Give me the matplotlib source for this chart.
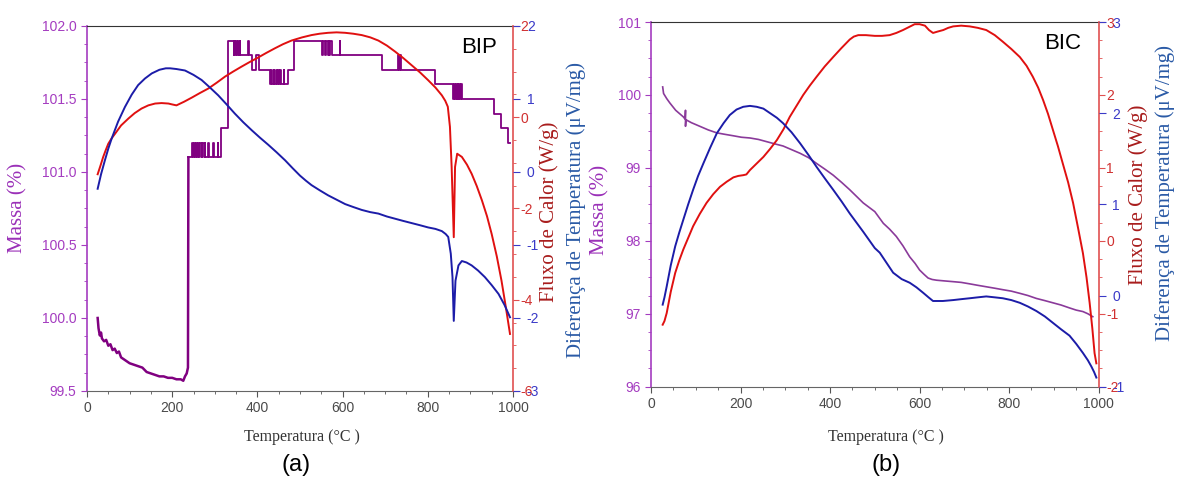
import matplotlib
matplotlib.use('Agg')
import matplotlib.pyplot as plt
from matplotlib.ticker import AutoMinorLocator, MultipleLocator, FormatStrFormatter

plt.rcParams['font.family'] = ['Liberation Sans', 'DejaVu Sans']
plt.rcParams['axes.unicode_minus'] = False

# ---------------- (a) BIP ----------------
bip_mass_T = [25, 27, 30, 33, 35, 40, 45, 50, 55, 60, 65, 70, 75, 80, 90, 100, 110, 120, 130, 140, 150,
              160, 170, 180, 190, 200, 210, 220, 226, 230, 234, 237, 238]
bip_mass = [100.00, 99.93, 99.88, 99.90, 99.86, 99.84, 99.85, 99.81, 99.82, 99.78, 99.79, 99.76, 99.77,
            99.73, 99.71, 99.69, 99.68, 99.67, 99.66, 99.63, 99.62, 99.61, 99.60, 99.60, 99.59, 99.59,
            99.58, 99.58, 99.57, 99.60, 99.62, 99.66, 101.10]

# stepped part of the mass curve (drawn as steps-post)
bip_step_T = [238, 246, 249, 251, 254, 256, 259, 261, 264, 266, 269, 271, 274, 276, 278, 285, 286, 296,
              297, 307, 308, 314, 332, 344, 346, 348, 350, 352, 354, 356, 358, 360, 378, 380, 388, 396,
              404, 430, 433, 435, 438, 440, 443, 445, 448, 450, 453, 455, 462, 463, 473, 485, 551, 553,
              558, 560, 565, 567, 569, 571, 574, 593, 595, 693, 731, 733, 735, 737, 739, 817, 860, 862,
              864, 866, 868, 870, 872, 874, 876, 878, 880, 956, 973, 989, 993]
bip_step_M = [101.1, 101.2, 101.1, 101.2, 101.1, 101.2, 101.1, 101.2, 101.1, 101.2, 101.1, 101.2, 101.1,
              101.2, 101.1, 101.2, 101.1, 101.2, 101.1, 101.2, 101.1, 101.3, 101.9, 101.8, 101.9, 101.8,
              101.9, 101.8, 101.9, 101.8, 101.9, 101.8, 101.9, 101.8, 101.7, 101.8, 101.7, 101.6, 101.7,
              101.6, 101.7, 101.6, 101.7, 101.6, 101.7, 101.6, 101.7, 101.6, 101.7, 101.6, 101.7, 101.9,
              101.8, 101.9, 101.8, 101.9, 101.8, 101.9, 101.8, 101.9, 101.8, 101.9, 101.8, 101.7, 101.8,
              101.7, 101.8, 101.7, 101.7, 101.6, 101.5, 101.6, 101.5, 101.6, 101.5, 101.6, 101.5, 101.6,
              101.5, 101.6, 101.5, 101.4, 101.3, 101.2, 101.2]

bip_heat_T = [25, 32, 38, 44, 50, 58, 66, 80, 97, 112, 128, 144, 160, 175, 191, 200, 210, 228, 246, 265,
              285, 305, 324, 343, 363, 382, 402, 421, 441, 460, 480, 505, 527, 546, 566, 586, 606, 625,
              645, 665, 684, 704, 723, 742, 762, 782, 801, 818, 833, 841, 847, 852, 856, 861, 864, 869,
              880, 892, 903, 915, 927, 939, 950, 962, 973, 983, 993]
bip_heat = [-1.25, -1.05, -0.87, -0.72, -0.58, -0.46, -0.36, -0.18, -0.03, 0.09, 0.19, 0.26, 0.30, 0.31,
            0.30, 0.28, 0.26, 0.34, 0.43, 0.53, 0.63, 0.76, 0.89, 1.00, 1.11, 1.21, 1.31, 1.41, 1.51,
            1.60, 1.68, 1.75, 1.80, 1.83, 1.85, 1.86, 1.85, 1.83, 1.80, 1.75, 1.68, 1.57, 1.44, 1.30,
            1.14, 0.98, 0.81, 0.65, 0.48, 0.36, 0.23, -0.21, -1.09, -2.63, -1.09, -0.80, -0.87, -1.04,
            -1.24, -1.51, -1.82, -2.17, -2.56, -3.05, -3.58, -4.15, -4.75]

bip_dta_T = [25, 33, 42, 50, 58, 73, 89, 105, 120, 136, 152, 170, 185, 195, 210, 230, 250, 269, 288,
             308, 327, 347, 367, 387, 406, 426, 445, 465, 483, 500, 514, 527, 546, 566, 586, 606, 625,
             645, 665, 684, 704, 723, 742, 762, 782, 801, 818, 833, 842, 848, 854, 858, 861, 865, 872,
             880, 891, 903, 918, 934, 950, 966, 980, 993]
bip_dta = [-0.23, -0.03, 0.16, 0.32, 0.46, 0.69, 0.89, 1.06, 1.19, 1.28, 1.35, 1.40, 1.42, 1.42, 1.41,
           1.39, 1.33, 1.26, 1.16, 1.05, 0.93, 0.80, 0.68, 0.57, 0.47, 0.37, 0.27, 0.16, 0.05, -0.05,
           -0.12, -0.18, -0.25, -0.32, -0.38, -0.44, -0.48, -0.52, -0.55, -0.57, -0.61, -0.64, -0.67,
           -0.70, -0.73, -0.76, -0.78, -0.81, -0.85, -0.89, -1.12, -1.44, -2.04, -1.49, -1.28, -1.22,
           -1.24, -1.28, -1.35, -1.44, -1.55, -1.67, -1.82, -1.99]

# ---------------- (b) BIC ----------------
bic_mass_T = [26, 28, 35, 42, 55, 72, 76, 77, 77, 78, 90, 109, 128, 147, 165, 184, 202, 221, 240, 258,
              276, 295, 314, 333, 352, 370, 389, 407, 426, 444, 459, 474, 487, 500, 519, 533, 548, 563,
              578, 590, 600, 610, 619, 628, 638, 656, 675, 693, 712, 730, 749, 768, 786, 805, 824, 842,
              861, 880, 898, 916, 935, 950, 965, 976, 987]
bic_mass = [100.11, 100.02, 99.95, 99.89, 99.79, 99.70, 99.67, 99.79, 99.57, 99.66, 99.62, 99.57, 99.52,
            99.48, 99.46, 99.44, 99.42, 99.41, 99.39, 99.36, 99.33, 99.30, 99.25, 99.20, 99.14, 99.06,
            98.98, 98.90, 98.80, 98.70, 98.61, 98.52, 98.46, 98.40, 98.24, 98.16, 98.06, 97.93, 97.78,
            97.69, 97.60, 97.54, 97.49, 97.47, 97.46, 97.45, 97.44, 97.43, 97.41, 97.39, 97.37, 97.35,
            97.33, 97.31, 97.28, 97.25, 97.21, 97.18, 97.15, 97.12, 97.08, 97.05, 97.03, 97.00, 96.96]

bic_heat_T = [26, 30, 35, 44, 54, 63, 72, 83, 94, 109, 124, 139, 154, 169, 184, 195, 206, 213, 221, 236,
              251, 266, 281, 296, 310, 325, 340, 355, 370, 388, 407, 425, 444, 453, 463, 480, 500, 516,
              533, 548, 563, 576, 589, 600, 612, 621, 630, 641, 653, 664, 675, 693, 712, 730, 749, 768,
              786, 805, 824, 839, 853, 865, 876, 887, 898, 909, 920, 932, 943, 954, 965, 973, 980, 986,
              991, 995]
bic_heat = [-1.15, -1.10, -0.99, -0.70, -0.44, -0.27, -0.12, 0.04, 0.20, 0.37, 0.52, 0.64, 0.74, 0.81,
            0.87, 0.89, 0.90, 0.91, 0.97, 1.06, 1.15, 1.26, 1.38, 1.53, 1.70, 1.85, 2.00, 2.13, 2.25,
            2.39, 2.52, 2.64, 2.76, 2.80, 2.82, 2.82, 2.81, 2.81, 2.82, 2.85, 2.89, 2.93, 2.97, 2.97,
            2.95, 2.89, 2.85, 2.87, 2.89, 2.92, 2.94, 2.95, 2.94, 2.92, 2.89, 2.82, 2.73, 2.63, 2.52,
            2.40, 2.25, 2.10, 1.93, 1.74, 1.52, 1.30, 1.06, 0.80, 0.52, 0.18, -0.17, -0.50, -0.85,
            -1.20, -1.54, -1.68]

bic_dta_T = [26, 30, 35, 44, 54, 63, 72, 83, 94, 105, 117, 132, 147, 162, 176, 191, 206, 221, 236, 251,
             266, 281, 295, 314, 333, 352, 370, 389, 407, 426, 444, 459, 474, 487, 500, 511, 526, 541,
             560, 578, 593, 608, 620, 630, 652, 675, 693, 712, 730, 749, 768, 786, 805, 824, 842, 861,
             880, 898, 916, 935, 950, 965, 976, 984, 990, 995]
bic_dta = [-0.10, -0.02, 0.10, 0.33, 0.54, 0.69, 0.83, 1.00, 1.16, 1.31, 1.45, 1.62, 1.78, 1.89, 1.98,
           2.04, 2.07, 2.08, 2.07, 2.05, 2.00, 1.95, 1.89, 1.79, 1.67, 1.54, 1.41, 1.28, 1.16, 1.03,
           0.90, 0.80, 0.70, 0.61, 0.52, 0.47, 0.36, 0.25, 0.18, 0.14, 0.09, 0.03, -0.02, -0.06, -0.06,
           -0.05, -0.04, -0.03, -0.02, -0.01, -0.02, -0.03, -0.05, -0.08, -0.12, -0.17, -0.23, -0.30,
           -0.37, -0.44, -0.53, -0.63, -0.71, -0.78, -0.84, -0.90]

temp_ticks = [0, 200, 400, 600, 800, 1000]

PURPLE = '#800080'
PURPLE_AX = '#a43cc0'
RED = '#e01010'
RED_AX = '#e05050'
RED_LBL = '#a81c1c'
BLUE = '#1c1ca8'
BLUE_AX = '#3a3ac8'
BLUE_LBL = '#2a5aa6'
SERIF = 'Liberation Serif'


def make_panel(rect, mlim, mstep, mfmt, rlim, rstep, blim, tag):
    ax = fig.add_axes(rect)
    ax.set_xlim(0, 1000)
    ax.set_xticks(temp_ticks)
    ax.xaxis.set_minor_locator(MultipleLocator(50))
    ax.set_ylim(*mlim)
    ax.yaxis.set_major_locator(MultipleLocator(mstep))
    ax.yaxis.set_minor_locator(AutoMinorLocator(4))
    ax.yaxis.set_major_formatter(FormatStrFormatter(mfmt))
    ax.tick_params(axis='x', colors='#555555', labelsize=10, length=4, labelcolor='#4a4a4a')
    ax.tick_params(axis='x', which='minor', colors='#555555', length=2.5)
    ax.tick_params(axis='y', colors=PURPLE_AX, labelsize=10, length=4)
    ax.tick_params(axis='y', which='minor', colors=PURPLE_AX, length=2.5)
    ax.spines['left'].set_color(PURPLE_AX)
    ax.spines['left'].set_linewidth(1.2)
    ax.spines['bottom'].set_color('#666666')
    ax.spines['top'].set_color('#333333')
    ax.spines['right'].set_visible(False)

    axr = ax.twinx()
    axr.set_ylim(*rlim)
    axr.yaxis.set_major_locator(MultipleLocator(rstep))
    axr.yaxis.set_minor_locator(AutoMinorLocator(4))
    axr.spines['right'].set_color(RED_AX)
    axr.spines['right'].set_linewidth(1.2)
    for s in ['left', 'top', 'bottom']:
        axr.spines[s].set_visible(False)
    axr.tick_params(axis='y', colors=RED_AX, labelcolor='#d03030', labelsize=10, length=4, pad=1.5)
    axr.tick_params(axis='y', which='minor', colors=RED_AX, length=2.5)

    axb = ax.twinx()
    axb.set_ylim(*blim)
    axb.yaxis.set_major_locator(MultipleLocator(1))
    for s in ['left', 'top', 'bottom', 'right']:
        axb.spines[s].set_visible(False)
    axb.tick_params(axis='y', colors=BLUE_AX, labelsize=10, length=5, pad=5)

    ax.text(0.92, 0.94, tag, transform=ax.transAxes, fontsize=16, ha='center', va='center')
    return ax, axr, axb


fig = plt.figure(figsize=(11.79, 4.88), dpi=100)

# (a) BIP
ax1, ax1r, ax1b = make_panel([0.0738, 0.1988, 0.3613, 0.748], (99.5, 102.0), 0.5, '%.1f',
                             (-6, 2), 2, (-3, 2), 'BIP')
ax1.plot(bip_mass_T, bip_mass, color=PURPLE, lw=1.8, zorder=3)
ax1.plot(bip_step_T, bip_step_M, color=PURPLE, lw=1.3, drawstyle='steps-post', zorder=3)
ax1r.plot(bip_heat_T, bip_heat, color=RED, lw=1.4)
ax1b.plot(bip_dta_T, bip_dta, color=BLUE, lw=1.4)

# (b) BIC
ax2, ax2r, ax2b = make_panel([0.5522, 0.2076, 0.3796, 0.7473], (96, 101), 1, '%d',
                             (-2, 3), 1, (-1, 3), 'BIC')
ax2.plot(bic_mass_T, bic_mass, color='#8a3a9a', lw=1.2, zorder=3)
ax2r.plot(bic_heat_T, bic_heat, color=RED, lw=1.4)
ax2b.plot(bic_dta_T, bic_dta, color=BLUE, lw=1.4)

# axis titles
fig.text(0.0153, 0.574, 'Massa (%)', rotation=90, color='#9a30b8', family=SERIF, fontsize=15,
         ha='center', va='center')
fig.text(0.4656, 0.566, 'Fluxo de Calor (W/g)', rotation=90, color=RED_LBL, family=SERIF, fontsize=15,
         ha='center', va='center')
fig.text(0.4886, 0.570, 'Diferença de Temperatura (μV/mg)', rotation=90, color=BLUE_LBL, family=SERIF,
         fontsize=15, ha='center', va='center')
fig.text(0.5089, 0.570, 'Massa (%)', rotation=90, color='#9a30b8', family=SERIF, fontsize=15,
         ha='center', va='center')
fig.text(0.9652, 0.600, 'Fluxo de Calor (W/g)', rotation=90, color=RED_LBL, family=SERIF, fontsize=15,
         ha='center', va='center')
fig.text(0.9881, 0.604, 'Diferença de Temperatura (μV/mg)', rotation=90, color=BLUE_LBL, family=SERIF,
         fontsize=15, ha='center', va='center')

fig.text(0.2561, 0.1045, 'Temperatura (°C )', family=SERIF, fontsize=11.5, color='#333333',
         ha='center', va='center')
fig.text(0.7515, 0.1045, 'Temperatura (°C )', family=SERIF, fontsize=11.5, color='#333333',
         ha='center', va='center')
fig.text(0.251, 0.047, '(a)', fontsize=17, ha='center', va='center')
fig.text(0.7515, 0.047, '(b)', fontsize=17, ha='center', va='center')

fig.savefig('out.png', dpi=100)
